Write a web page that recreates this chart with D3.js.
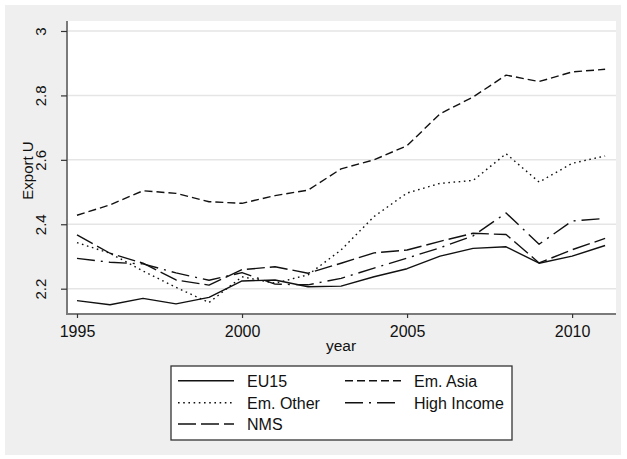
<!DOCTYPE html>
<html>
<head>
<meta charset="utf-8">
<script src="https://cdn.jsdelivr.net/npm/d3@7"></script>
<style>
  html, body { margin: 0; padding: 0; background: #ffffff; }
  svg { display: block; font-family: Arial, "Liberation Sans", Helvetica, sans-serif; }
</style>
</head>
<body>
<svg id="chart" width="627" height="459"></svg>
<script>
// Export unit values by region, 1995–2011
const years = d3.range(1995, 2012);
const eu15      = [2.163, 2.150, 2.170, 2.153, 2.173, 2.224, 2.227, 2.206, 2.208, 2.237, 2.262, 2.301, 2.325, 2.330, 2.279, 2.301, 2.334];
const emAsia    = [2.428, 2.460, 2.504, 2.496, 2.470, 2.465, 2.489, 2.506, 2.572, 2.600, 2.644, 2.743, 2.795, 2.863, 2.843, 2.873, 2.881];
const emOther   = [2.343, 2.310, 2.255, 2.204, 2.157, 2.237, 2.217, 2.243, 2.320, 2.424, 2.497, 2.527, 2.536, 2.619, 2.531, 2.589, 2.612];
const highInc   = [2.294, 2.282, 2.277, 2.249, 2.226, 2.250, 2.214, 2.212, 2.232, 2.264, 2.295, 2.327, 2.364, 2.435, 2.338, 2.410, 2.418];
const nms       = [2.367, 2.310, 2.279, 2.227, 2.211, 2.259, 2.268, 2.248, 2.279, 2.311, 2.320, 2.347, 2.372, 2.368, 2.280, 2.321, 2.356];

const seriesNames = ["EU15", "Em. Asia", "Em. Other", "High Income", "NMS"];
const seriesValues = [eu15, emAsia, emOther, highInc, nms];
const seriesDash = ["none", "8,4", "1.6,3.6", "18,6,2,6", "18,5"];

const yTicks = [2.2, 2.4, 2.6, 2.8, 3];
const xTicks = [1995, 2000, 2005, 2010];
const xTitle = "year";
const yTitle = "Export U";

const svg = d3.select("#chart");

// page and plot backgrounds
svg.append("rect").attr("x", 5).attr("y", 5).attr("width", 616).attr("height", 450)
  .attr("fill", "#efefef");

const plot = { left: 66, right: 616, top: 21, bottom: 314 };
svg.append("rect").attr("x", plot.left).attr("y", plot.top)
  .attr("width", plot.right - plot.left).attr("height", plot.bottom - plot.top)
  .attr("fill", "#ffffff");

const x = d3.scaleLinear().domain([1994.667, 2011.33]).range([plot.left, plot.right]);
const y = d3.scaleLinear().domain([2.1214, 3.031]).range([plot.bottom, plot.top]);

// horizontal gridlines
svg.append("g").selectAll("line").data(yTicks).join("line")
  .attr("x1", plot.left).attr("x2", plot.right)
  .attr("y1", d => y(d)).attr("y2", d => y(d))
  .attr("stroke", "#e5e5e5").attr("stroke-width", 1.5);

// series lines
const line = d3.line().x((d, i) => x(years[i])).y(d => y(d));
svg.append("g").selectAll("path").data(seriesValues).join("path")
  .attr("d", d => line(d))
  .attr("fill", "none")
  .attr("stroke", "#111111")
  .attr("stroke-width", 1.4)
  .attr("stroke-linejoin", "round")
  .attr("stroke-dasharray", (d, i) => seriesDash[i]);

// y axis
const yAxis = svg.append("g").attr("transform", `translate(${plot.left + 1},0)`)
  .call(d3.axisLeft(y).tickValues(yTicks).tickFormat(d3.format("~g")).tickSize(6).tickPadding(4));
yAxis.select(".domain").attr("stroke", "#7a7a7a").attr("stroke-width", 2)
  .attr("d", `M0,${plot.top}V${plot.bottom}`);
yAxis.selectAll(".tick line").attr("stroke", "#333333").attr("stroke-width", 1.2);
yAxis.selectAll(".tick text")
  .attr("font-size", 15).attr("fill", "#111111")
  .attr("text-anchor", "middle")
  .attr("x", null).attr("dy", null)
  .attr("transform", "translate(-21,0) rotate(-90)");

// x axis
const xAxis = svg.append("g").attr("transform", `translate(0,${plot.bottom})`)
  .call(d3.axisBottom(x).tickValues(xTicks).tickFormat(d3.format("d")).tickSize(4).tickPadding(3));
xAxis.select(".domain").attr("stroke", "#7a7a7a").attr("stroke-width", 2)
  .attr("d", `M${plot.left},0H${plot.right}`);
xAxis.selectAll(".tick line").attr("stroke", "#333333").attr("stroke-width", 1.2);
xAxis.selectAll(".tick text")
  .attr("font-size", 16).attr("fill", "#111111")
  .attr("y", 23).attr("dy", null);

// axis titles
svg.append("text").attr("x", (plot.left + plot.right) / 2).attr("y", 351)
  .attr("text-anchor", "middle").attr("font-size", 15.5).attr("fill", "#111111")
  .text(xTitle);
svg.append("text")
  .attr("transform", `translate(32.5,${(plot.top + plot.bottom) / 2 + 3}) rotate(-90)`)
  .attr("text-anchor", "middle").attr("font-size", 15).attr("fill", "#111111")
  .text(yTitle);

// legend
const legend = svg.append("g");
legend.append("rect").attr("x", 171).attr("y", 366).attr("width", 341).attr("height", 74)
  .attr("fill", "#ffffff").attr("stroke", "#333333").attr("stroke-width", 1.3);

const colX = [178, 345];
const rowY = [380.7, 402.7, 424];
const items = legend.selectAll("g.item").data(seriesNames).join("g").attr("class", "item")
  .attr("transform", (d, i) => `translate(${colX[i % 2]},${rowY[Math.floor(i / 2)]})`);
items.append("line").attr("x1", 0).attr("x2", 56).attr("y1", 0).attr("y2", 0)
  .attr("stroke", "#111111").attr("stroke-width", 1.4)
  .attr("stroke-dasharray", (d, i) => seriesDash[i]);
items.append("text").attr("x", 69).attr("y", 5.8)
  .attr("font-size", 16).attr("fill", "#111111")
  .text(d => d);
</script>
</body>
</html>
